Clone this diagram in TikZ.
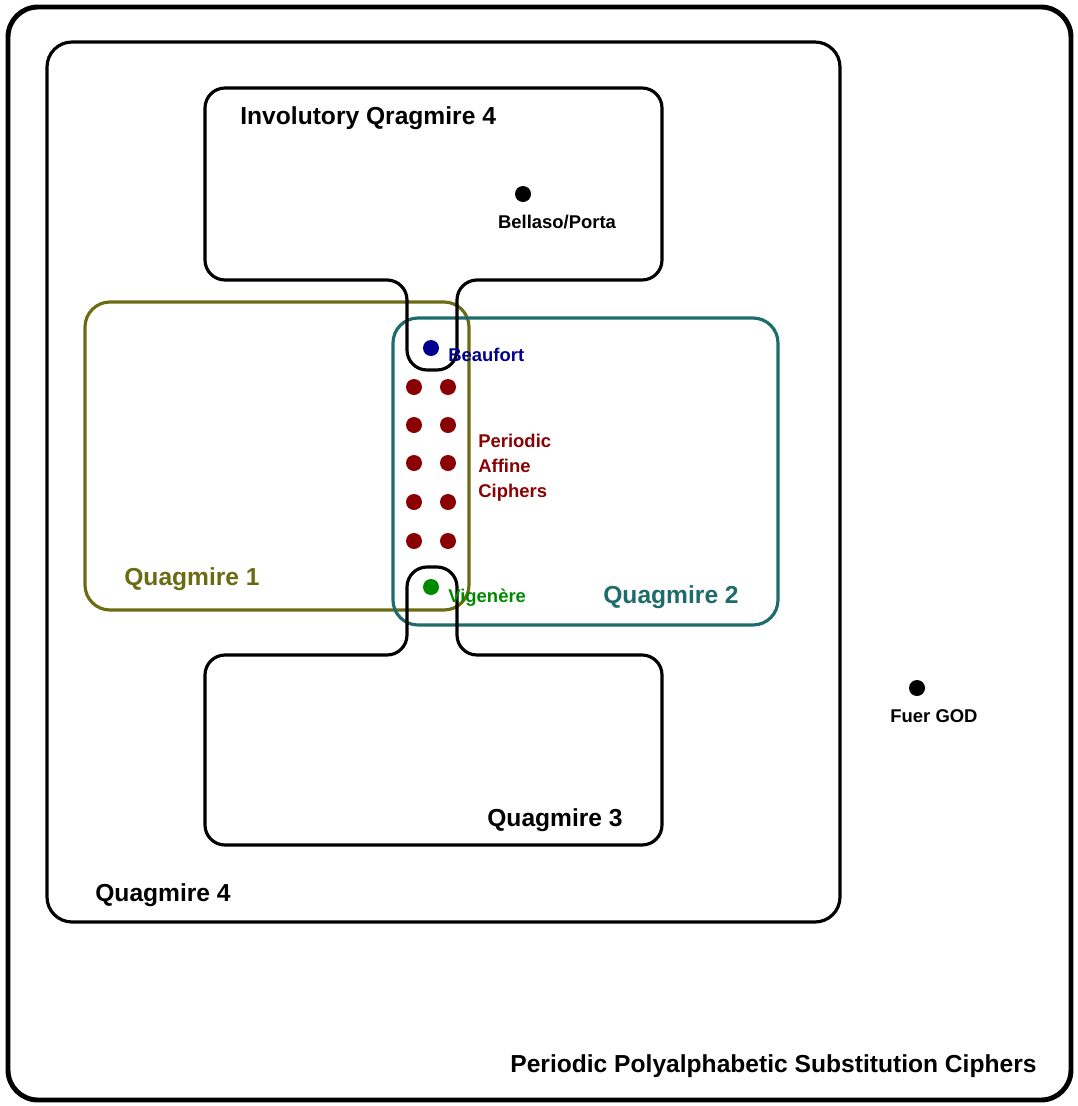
\documentclass[tikz,border=0pt]{standalone}
\usepackage{fontspec}
\setmainfont{Liberation Sans}
\definecolor{qolive}{HTML}{6B6B14}
\definecolor{qteal}{HTML}{1E6B6B}
\definecolor{qnavy}{HTML}{000090}
\definecolor{qred}{HTML}{8B0000}
\definecolor{qgreen}{HTML}{008A00}
\begin{document}
\begin{tikzpicture}[x=0.02cm,y=-0.02cm,
  region/.style={line width=1.8pt,rounded corners=0.5cm},
  neckregion/.style={line width=1.8pt,rounded corners=0.4cm},
  bigtxt/.style={font=\fontsize{14}{16}\selectfont\bfseries,inner sep=0pt,anchor=base west},
  smalltxt/.style={font=\fontsize{10.5}{12}\selectfont\bfseries,inner sep=0pt,anchor=base west},
  dot/.style={circle,fill,inner sep=0pt,minimum size=0.32cm},
  ]
\useasboundingbox (0,0) rectangle (1078,1106);

% the big sets
\draw[line width=2.8pt,rounded corners=0.6cm] (8,7) rectangle (1071,1100);
\draw[region] (47,42) rectangle (840,922);
\draw[region,qolive] (85,302) rectangle (469,610);
\draw[region,qteal] (393,318) rectangle (778,625);
\draw[neckregion] (430,88) -- (662,88) -- (662,280) -- (457,280) -- (457,370)
  -- (407,370) -- (407,280) -- (205,280) -- (205,88) -- cycle;
\draw[neckregion] (430,845) -- (205,845) -- (205,655) -- (407,655) -- (407,567)
  -- (457,567) -- (457,655) -- (662,655) -- (662,845) -- cycle;

% set names
\node[bigtxt] (invq4) at (240,124) {Involutory Qragmire 4};
\node[bigtxt,qolive] (q1) at (124,585) {Quagmire 1};
\node[bigtxt,qteal] (q2) at (603,603) {Quagmire 2};
\node[bigtxt] (q3) at (487,826) {Quagmire 3};
\node[bigtxt] (q4) at (95,901) {Quagmire 4};
\node[bigtxt] (ppsc) at (510,1072) {Periodic Polyalphabetic Substitution Ciphers};

% ciphers
\node[dot] (bellaso) at (523,194) {};
\node[smalltxt,anchor=base] (bellasolbl) at (557,228) {Bellaso/Porta};
\node[dot] (fuer) at (917,688) {};
\node[smalltxt,anchor=base] (fuerlbl) at (934,722) {Fuer GOD};
\node[dot,qnavy] (beaufort) at (431,348) {};
\node[smalltxt,qnavy] (beaufortlbl) at (448,361) {Beaufort};
\node[dot,qgreen] (vigenere) at (431,587) {};
\node[smalltxt,qgreen] (vigenerelbl) at (448,602) {Vigenère};
\foreach \row/\y in {1/387,2/425,3/463,4/502,5/541}{
  \node[dot,qred] (aff\row a) at (414,\y) {};
  \node[dot,qred] (aff\row b) at (448,\y) {};
}
\node[smalltxt,qred,align=left,anchor=north west,font=\fontsize{10.5}{14.2}\selectfont\bfseries]
  (affinelbl) at (478,434) {Periodic\\Affine\\Ciphers};
\end{tikzpicture}
\end{document}
